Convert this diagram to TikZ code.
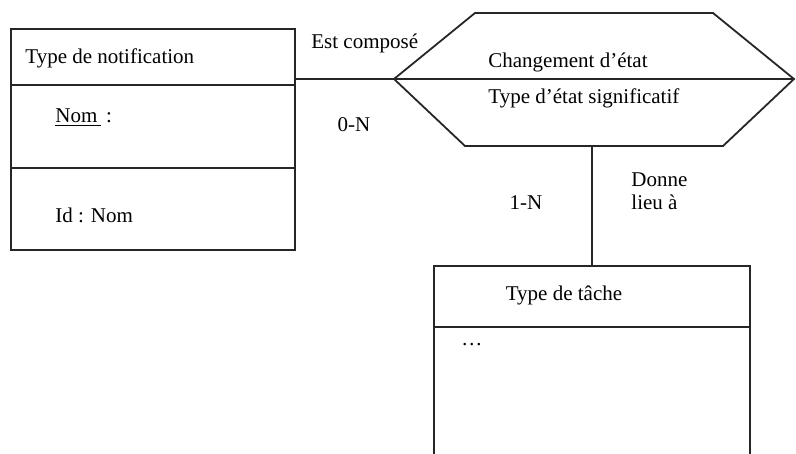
\documentclass[tikz,border=0pt]{standalone}
\usepackage{fontspec}
\setmainfont{Liberation Serif}
\usetikzlibrary{positioning}

\begin{document}
\begin{tikzpicture}[
    x=0.5pt, y=-0.5pt,
    line/.style={line width=0.9pt, draw=black!85},
    entity/.style={rectangle, line, inner sep=0pt},
    label/.style={inner sep=0pt, font=\fontsize{10.5}{11.5}\selectfont, align=left},
]
  \useasboundingbox (0,0) rectangle (796,454);
  \clip (0,0) rectangle (796,454);

  % entite de gauche
  \node[entity, minimum width=142pt, minimum height=110.5pt] (notif) at (153,139.5) {};
  \draw[line] (11,85) -- (295,85);
  \draw[line] (11,168) -- (295,168);
  \node[label, anchor=west] (notifT) at (25,58) {Type de notification};
  \node[label, anchor=west] (nom) at (55,118) {\underline{Nom\,} :};
  \node[label, anchor=west] (ident) at (55,215) {Id : Nom};

  % association (hexagone)
  \coordinate (hexW) at (394,79);
  \coordinate (hexE) at (794,79);
  \coordinate (hexS) at (592,146);
  \draw[line] (hexW) -- (475,13) -- (713,13) -- (hexE) -- (723,146) -- (465,146) -- cycle;
  \draw[line] (hexW) -- (hexE);
  \node[label, anchor=west] (chg) at (488,62) {Changement d’état};
  \node[label, anchor=west] (sig) at (488,98) {Type d’état significatif};

  % entite du bas
  \node[entity, minimum width=158pt, minimum height=102pt] (tache) at (592,368) {};
  \draw[line] (434,327) -- (750,327);
  \node[label] (tacheT) at (564,295) {Type de tâche};
  \node[label, anchor=west] (dots) at (461,345) {\dots};

  % liens
  \draw[line] (notif.east |- hexW) -- (hexW);
  \draw[line] (hexS) -- (tache.north);
  \node[label, anchor=west] (compose) at (311,43) {Est composé};
  \node[label] (card0N) at (354,125) {0-N};
  \node[label] (card1N) at (526,203) {1-N};
  \node[label, anchor=west] (donne) at (631,191) {Donne\\lieu à};
\end{tikzpicture}
\end{document}
